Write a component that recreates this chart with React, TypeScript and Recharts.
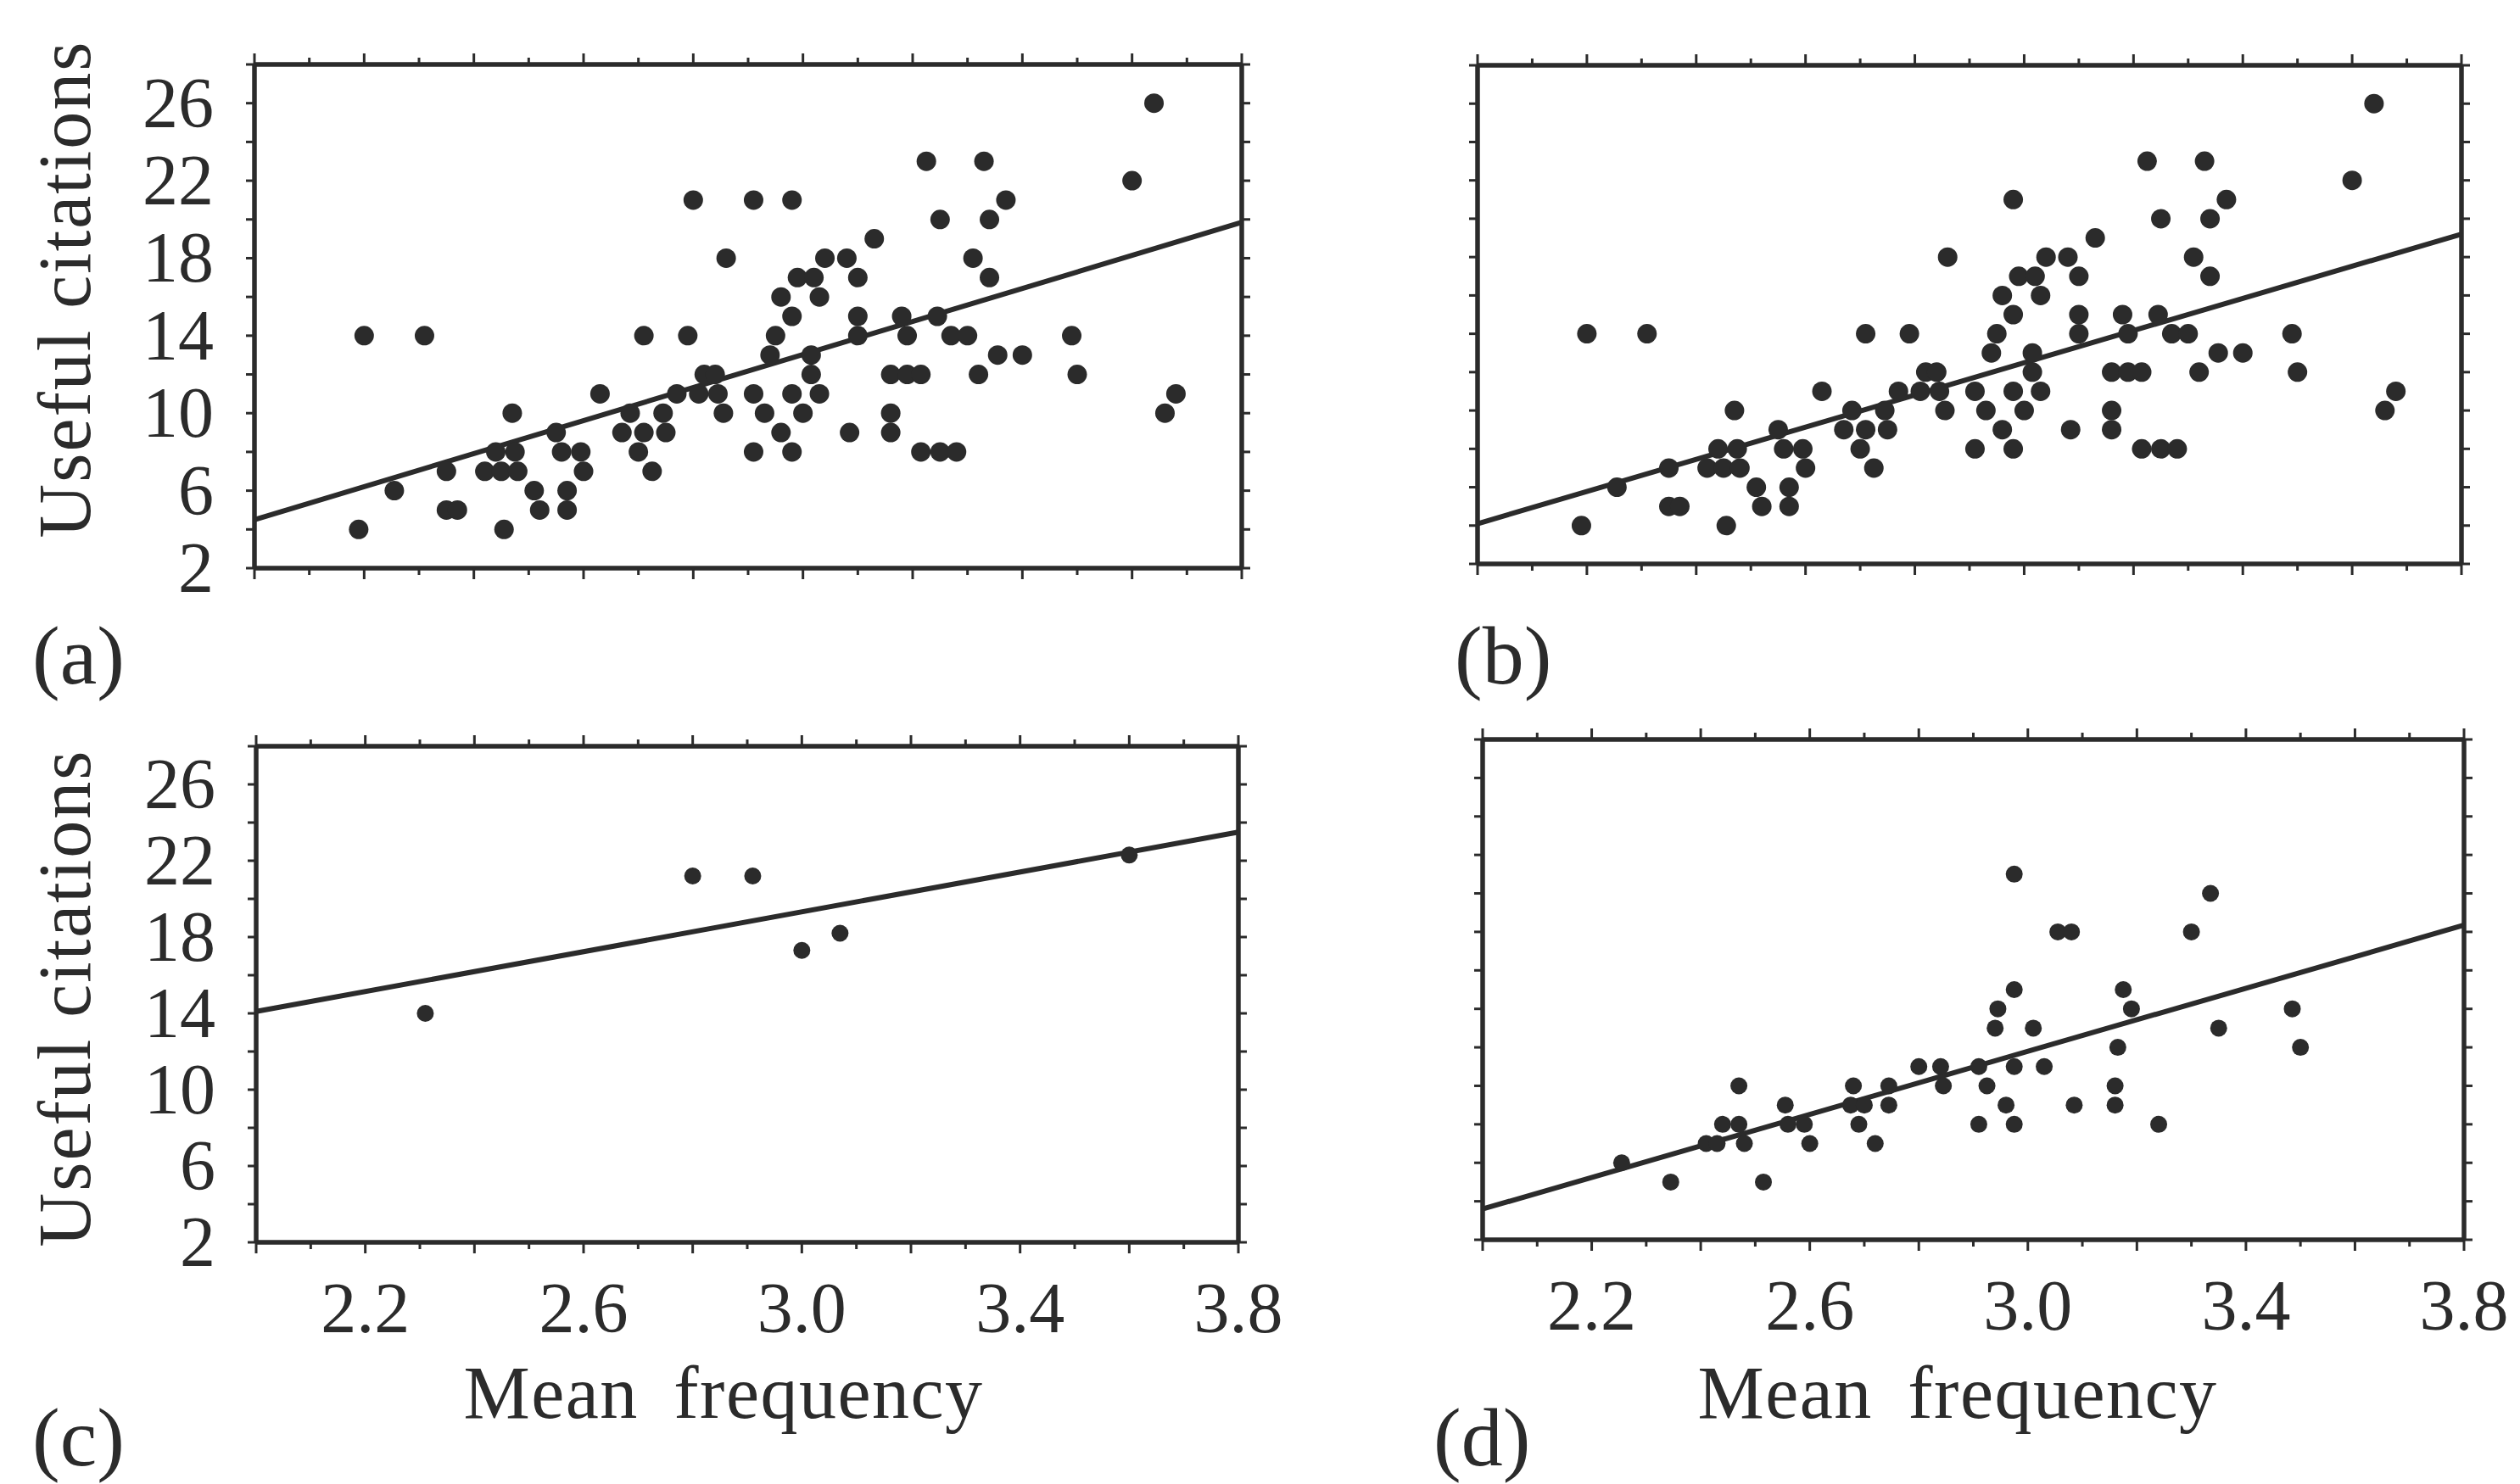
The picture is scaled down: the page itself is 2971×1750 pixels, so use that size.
import { ScatterChart, Scatter, XAxis, YAxis, ReferenceLine, Label } from 'recharts';

const INK = '#2b2b2b';
const SERIF = '"Liberation Serif", "Times New Roman", Times, serif';

// ticks: every minor step, plus the ones that get a number
const xTicks = [2.0, 2.1, 2.2, 2.3, 2.4, 2.5, 2.6, 2.7, 2.8, 2.9, 3.0, 3.1, 3.2, 3.3, 3.4, 3.5, 3.6, 3.7, 3.8];
const xNumbered = [2.2, 2.6, 3.0, 3.4, 3.8];
const yTicks = [2, 4, 6, 8, 10, 12, 14, 16, 18, 20, 22, 24, 26, 28];
const yNumbered = [2, 6, 10, 14, 18, 22, 26];

// (a) and (b) share almost every point, (a) has two more at 21
const ptsShared: [number, number][] = [
  [2.2, 14], [2.31, 14], [2.19, 4], [2.255, 6], [2.35, 7], [2.35, 5], [2.37, 5],
  [2.42, 7], [2.45, 7], [2.44, 8], [2.475, 8], [2.47, 10], [2.48, 7], [2.51, 6],
  [2.52, 5], [2.455, 4], [2.57, 6], [2.57, 5], [2.56, 8], [2.595, 8], [2.55, 9],
  [2.6, 7], [2.63, 11], [2.67, 9], [2.71, 9], [2.75, 9], [2.7, 8], [2.725, 7],
  [2.685, 10], [2.745, 10], [2.71, 14], [2.79, 14], [2.86, 18], [2.77, 11], [2.81, 11],
  [2.82, 12], [2.84, 12], [2.845, 11], [2.855, 10],
  [3.64, 26], [3.6, 22], [3.225, 23], [3.33, 23], [2.98, 21], [3.25, 20], [3.34, 20],
  [3.37, 21], [3.13, 19], [3.04, 18], [3.08, 18], [2.99, 17], [3.02, 17], [3.1, 17],
  [2.96, 16], [3.03, 16], [2.98, 15], [3.1, 15], [3.18, 15], [3.245, 15], [3.31, 18],
  [3.34, 17], [2.95, 14], [3.1, 14], [3.19, 14], [3.27, 14], [3.3, 14], [3.49, 14],
  [2.94, 13], [3.015, 13], [3.015, 12], [3.355, 13], [3.4, 13], [3.5, 12], [3.32, 12],
  [3.16, 12], [3.19, 12], [3.215, 12], [2.91, 11], [2.98, 11], [3.03, 11], [2.93, 10],
  [3.0, 10], [3.16, 10], [2.96, 9], [3.085, 9], [3.16, 9], [2.91, 8], [2.98, 8],
  [3.215, 8], [3.25, 8], [3.28, 8], [3.68, 11], [3.66, 10],
];
const ptsOnlyA: [number, number][] = [[2.8, 21], [2.91, 21]];

const ptsC: [number, number][] = [
  [2.31, 14], [2.8, 21.2], [2.91, 21.2], [3.0, 17.3], [3.07, 18.2], [3.6, 22.3],
];

const ptsD: [number, number][] = [
  [2.255, 6], [2.345, 5], [2.515, 5], [2.41, 7], [2.43, 7], [2.44, 8], [2.47, 8],
  [2.48, 7], [2.47, 10], [2.555, 9], [2.56, 8], [2.59, 8], [2.6, 7], [2.68, 10],
  [2.675, 9], [2.7, 9], [2.745, 9], [2.69, 8], [2.72, 7], [2.745, 10], [2.8, 11],
  [2.84, 11], [2.845, 10], [2.91, 11], [2.925, 10], [2.975, 11], [3.03, 11], [2.96, 9],
  [2.91, 8], [2.975, 8], [3.085, 9], [3.24, 8], [3.16, 10], [3.16, 9], [3.165, 12],
  [3.19, 14], [3.175, 15], [3.35, 13], [3.485, 14], [3.5, 12], [2.94, 13], [2.945, 14],
  [3.01, 13], [2.975, 15], [2.975, 21], [3.055, 18], [3.08, 18], [3.3, 18], [3.335, 20],
];

// fitted lines, value at x = 2.0 and at x = 3.8
const fitA: [number, number][] = [[2.0, 4.5], [3.8, 19.85]];
const fitB: [number, number][] = [[2.0, 4.1], [3.8, 19.2]];
const fitC: [number, number][] = [[2.0, 14.1], [3.8, 23.5]];
const fitD: [number, number][] = [[2.0, 3.6], [3.8, 18.35]];

const TOP_H = 30;
const RIGHT_W = 20;
const BOTTOM_H = 40;

function xTick(side: 'top' | 'bottom', numbered: boolean) {
  return (p: any) => {
    const v = Number(p.payload?.value);
    const major = Math.round(v * 10) % 2 === 0;
    const dir = side === 'top' ? -1 : 1;
    return (
      <g>
        <line x1={p.x} y1={p.y} x2={p.x} y2={p.y + dir * (major ? 13 : 8)} stroke={INK} strokeWidth={3} />
        {numbered && xNumbered.includes(v) && (
          <text x={p.x} y={p.y + 106} textAnchor="middle" fontFamily={SERIF} fontSize={84} fill={INK}>
            {v.toFixed(1)}
          </text>
        )}
      </g>
    );
  };
}

function yTick(side: 'left' | 'right', numbered: boolean) {
  return (p: any) => {
    const v = Number(p.payload?.value);
    const dir = side === 'left' ? -1 : 1;
    return (
      <g>
        <line x1={p.x} y1={p.y} x2={p.x + dir * 10} y2={p.y} stroke={INK} strokeWidth={3} />
        {numbered && yNumbered.includes(v) && (
          <text x={p.x - 48} y={p.y + 28} textAnchor="end" fontFamily={SERIF} fontSize={84} fill={INK}>
            {v}
          </text>
        )}
      </g>
    );
  };
}

type Box = { l: number; t: number; w: number; h: number };
type Rect = { l: number; t: number; r: number; b: number };

interface PanelProps {
  box: Box;
  plot: Rect;
  pts: [number, number][];
  fit: [number, number][];
  dotR: number;
  yNums: boolean;
  xNums: boolean;
  yTitle?: { x: number; y: number };
  xTitle?: { x: number; y: number };
}

function Panel({ box, plot, pts, fit, dotR, yNums, xNums, yTitle, xTitle }: PanelProps) {
  const data = pts.map(([x, y]) => ({ x, y }));
  const margin = {
    top: plot.t - box.t - TOP_H,
    right: box.l + box.w - plot.r - RIGHT_W,
    bottom: box.t + box.h - plot.b - BOTTOM_H,
    left: 0,
  };
  const axisLine = { stroke: INK, strokeWidth: 5.5 };

  const yTitleEl = yTitle ? (
    <Label
      content={() => {
        const tx = yTitle.x - box.l;
        const ty = yTitle.y - box.t;
        return (
          <text x={tx} y={ty} transform={`rotate(-90, ${tx}, ${ty})`} textAnchor="middle"
            fontFamily={SERIF} fontSize={88} fill={INK} style={{ letterSpacing: 2 }}>
            Useful citations
          </text>
        );
      }}
    />
  ) : undefined;

  const xTitleEl = xTitle ? (
    <Label
      content={() => (
        <text x={xTitle.x - box.l} y={xTitle.y - box.t} textAnchor="middle"
          fontFamily={SERIF} fontSize={88} fill={INK} style={{ letterSpacing: 1.5, wordSpacing: 18 }}>
          Mean frequency
        </text>
      )}
    />
  ) : undefined;

  return (
    <div style={{ position: 'absolute', left: box.l, top: box.t }}>
      <ScatterChart width={box.w} height={box.h} margin={margin}>
        <XAxis xAxisId="b" orientation="bottom" type="number" dataKey="x" domain={[2, 3.8]}
          allowDataOverflow ticks={xTicks} interval={0} height={BOTTOM_H}
          axisLine={axisLine} tickLine={false} tickSize={0} tickMargin={0}
          tick={xTick('bottom', xNums)} label={xTitleEl} />
        <XAxis xAxisId="t" orientation="top" type="number" dataKey="x" domain={[2, 3.8]}
          allowDataOverflow ticks={xTicks} interval={0} height={TOP_H}
          axisLine={axisLine} tickLine={false} tickSize={0} tickMargin={0}
          tick={xTick('top', false)} />
        <YAxis yAxisId="l" orientation="left" type="number" dataKey="y" domain={[2, 28]}
          allowDataOverflow ticks={yTicks} interval={0} width={plot.l - box.l}
          axisLine={axisLine} tickLine={false} tickSize={0} tickMargin={0}
          tick={yTick('left', yNums)} label={yTitleEl} />
        <YAxis yAxisId="r" orientation="right" type="number" dataKey="y" domain={[2, 28]}
          allowDataOverflow ticks={yTicks} interval={0} width={RIGHT_W}
          axisLine={axisLine} tickLine={false} tickSize={0} tickMargin={0}
          tick={yTick('right', false)} />
        <ReferenceLine xAxisId="b" yAxisId="l"
          segment={[{ x: fit[0][0], y: fit[0][1] }, { x: fit[1][0], y: fit[1][1] }]}
          stroke={INK} strokeWidth={6} />
        <Scatter xAxisId="b" yAxisId="l" data={data} fill={INK} isAnimationActive={false}
          shape={(p: any) => <circle cx={p.cx} cy={p.cy} r={dotR} fill={INK} />} />
      </ScatterChart>
    </div>
  );
}

const tagStyle = { fontFamily: SERIF, fontSize: 98, fill: INK } as const;

export default function App() {
  return (
    <div style={{ position: 'absolute', left: 0, top: 0, width: 2971, height: 1750, background: '#fff', overflow: 'hidden' }}>
      <Panel box={{ l: 0, t: 0, w: 1500, h: 800 }} plot={{ l: 300, t: 76, r: 1464, b: 670 }}
        pts={[...ptsShared, ...ptsOnlyA]} fit={fitA} dotR={11.5} yNums xNums={false}
        yTitle={{ x: 106, y: 341 }} />
      <Panel box={{ l: 1500, t: 0, w: 1471, h: 800 }} plot={{ l: 1742, t: 77, r: 2902, b: 665 }}
        pts={ptsShared} fit={fitB} dotR={11.5} yNums={false} xNums={false} />
      <Panel box={{ l: 0, t: 800, w: 1580, h: 950 }} plot={{ l: 302, t: 880, r: 1460, b: 1465 }}
        pts={ptsC} fit={fitC} dotR={10} yNums xNums
        yTitle={{ x: 106, y: 1177 }} xTitle={{ x: 853, y: 1672 }} />
      <Panel box={{ l: 1500, t: 800, w: 1471, h: 950 }} plot={{ l: 1748, t: 872, r: 2905, b: 1462 }}
        pts={ptsD} fit={fitD} dotR={10} yNums={false} xNums
        xTitle={{ x: 2308, y: 1672 }} />
      <svg width={2971} height={1750} style={{ position: 'absolute', left: 0, top: 0, pointerEvents: 'none' }}>
        <text x={38} y={806} {...tagStyle}>(a)</text>
        <text x={1715} y={806} {...tagStyle}>(b)</text>
        <text x={38} y={1728} {...tagStyle}>(c)</text>
        <text x={1690} y={1728} {...tagStyle}>(d)</text>
      </svg>
    </div>
  );
}
